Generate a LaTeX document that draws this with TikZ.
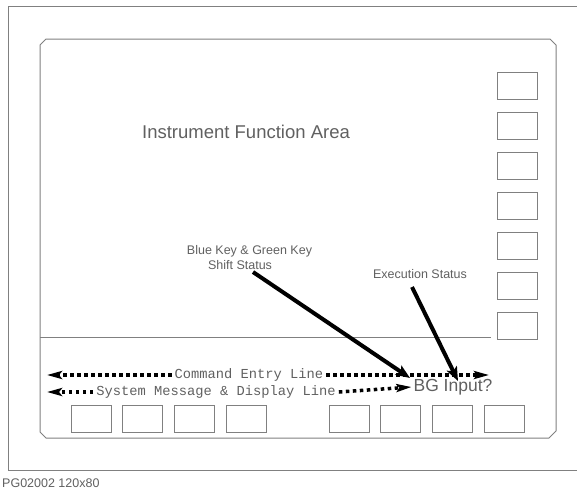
\documentclass[tikz,border=0pt]{standalone}
\usepackage{fontspec}
\setmainfont{Liberation Sans}
\setmonofont{Liberation Mono}
\usetikzlibrary{arrows.meta}
\definecolor{framecol}{HTML}{808080}
\definecolor{textcol}{HTML}{606060}
\tikzset{
  frameline/.style={draw=framecol, line width=1pt},
  btn/.style={draw=framecol, line width=1pt, minimum width=40pt, minimum height=27pt, inner sep=0pt},
  label/.style={text=textcol, inner sep=0pt},
  monolabel/.style={text=textcol, inner sep=3pt, font=\ttfamily\fontsize{13.75}{15}\selectfont},
  dotarrow/.style={line width=3.5pt, dash pattern=on 3.5pt off 3.5pt, -{Stealth[length=15pt,width=8pt,inset=3pt]}},
  thickarrow/.style={line width=4pt, -{Stealth[length=14pt,width=11pt,inset=3pt]}}
}
\begin{document}
\begin{tikzpicture}[x=1pt,y=-1pt]
\useasboundingbox (0,0) rectangle (577,491);
% outer frame
\draw[frameline] (578,6) -- (8,6) -- (8,470) -- (578,470);
% screen
\draw[frameline] (46,39) -- (550,39) -- (556,45) -- (556,431) -- (549,438) -- (46,438) -- (40,432) -- (40,45) -- cycle;
\coordinate (divl) at (40,337);
\coordinate (divr) at (491,337);
\draw[frameline] (divl) -- (divr);
% right softkeys
\foreach \i/\y in {1/85.5,2/125.5,3/165.5,4/205.5,5/245.5,6/285.5,7/325.5}
  \node[btn] (r\i) at (517,\y) {};
% bottom keys
\foreach \i/\x in {1/91,2/142.5,3/194,4/246,5/349,6/400.5,7/452.5,8/504}
  \node[btn] (b\i) at (\x,418.5) {};
% texts
\node[label, font=\fontsize{18.5}{20}\selectfont] (ifa) at (246,132) {Instrument Function Area};
\node[label, font=\fontsize{12.5}{14}\selectfont] (blue1) at (249.5,251) {Blue Key \& Green Key};
\node[label, font=\fontsize{12.5}{14}\selectfont] (blue2) at (240,265) {Shift Status};
\node[label, font=\fontsize{12.5}{14}\selectfont] (exe) at (420,274) {Execution Status};
\node[monolabel] (cmd) at (249,375) {Command Entry Line};
\node[monolabel] (sys) at (216,392) {System Message \& Display Line};
\node[label, inner sep=2pt, font=\fontsize{17.5}{19}\selectfont] (bg) at (453,387) {BG Input?};
\node[label, anchor=west, font=\fontsize{12.5}{14}\selectfont] (pg) at (2,483) {PG02002 120x80};
% dotted arrows
\coordinate (c1l) at (47,375);
\coordinate (c1r) at (489,375);
\coordinate (c2l) at (47,392);
\draw[dotarrow] (cmd.west) -- (c1l);
\draw[dotarrow] (cmd.east) -- (c1r);
\draw[dotarrow] (sys.west) -- (c2l);
\draw[dotarrow] (sys.east) -- (bg.west);
% status pointers
\coordinate (bks) at (253,272);
\coordinate (bke) at (410,378);
\coordinate (exs) at (412,287);
\coordinate (exe2) at (458,381);
\draw[thickarrow] (bks) -- (bke);
\draw[thickarrow] (exs) -- (exe2);
\end{tikzpicture}
\end{document}
